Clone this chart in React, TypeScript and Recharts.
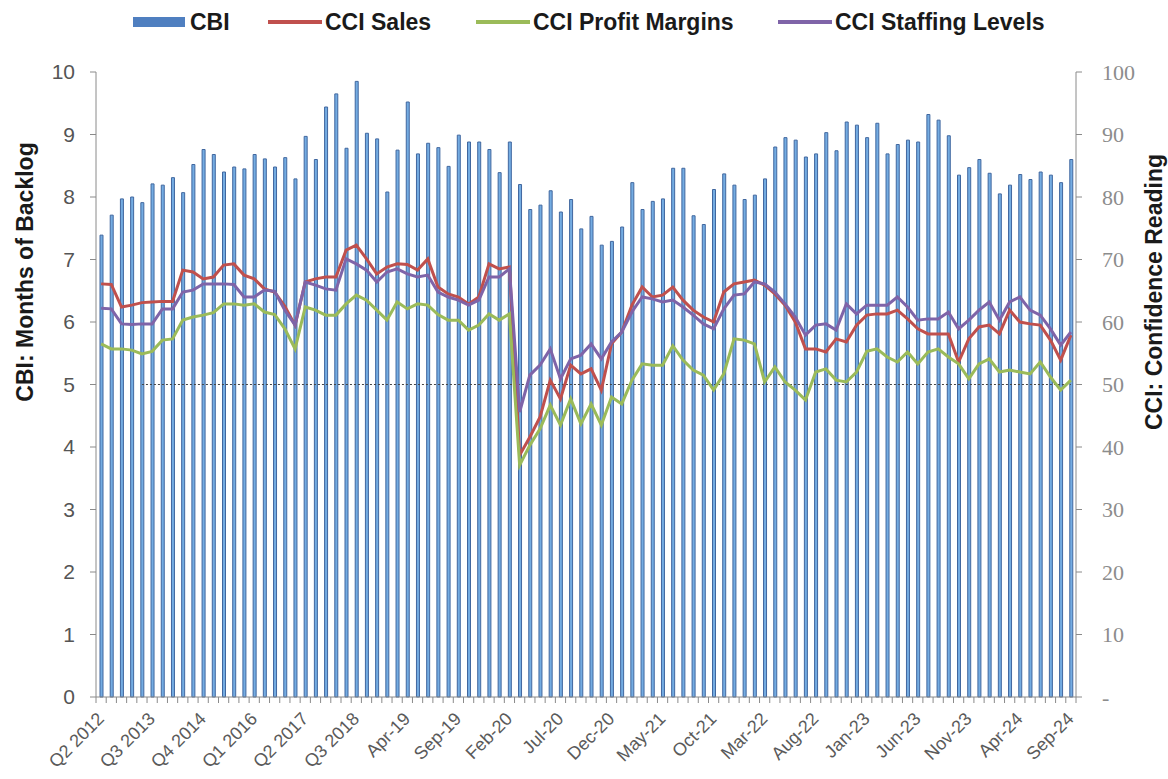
import { ComposedChart, Bar, Line, XAxis, YAxis, ReferenceLine } from "recharts";

const quarters = [
  "Q2 2012", "Q3 2012", "Q4 2012",
  "Q1 2013", "Q2 2013", "Q3 2013", "Q4 2013",
  "Q1 2014", "Q2 2014", "Q3 2014", "Q4 2014",
  "Q1 2015", "Q2 2015", "Q3 2015", "Q4 2015",
  "Q1 2016", "Q2 2016", "Q3 2016", "Q4 2016",
  "Q1 2017", "Q2 2017", "Q3 2017", "Q4 2017",
  "Q1 2018", "Q2 2018", "Q3 2018", "Q4 2018",
];

const months = [
  "Jan-19", "Feb-19", "Mar-19", "Apr-19", "May-19", "Jun-19", "Jul-19", "Aug-19", "Sep-19", "Oct-19", "Nov-19", "Dec-19",
  "Jan-20", "Feb-20", "Mar-20", "Apr-20", "May-20", "Jun-20", "Jul-20", "Aug-20", "Sep-20", "Oct-20", "Nov-20", "Dec-20",
  "Jan-21", "Feb-21", "Mar-21", "Apr-21", "May-21", "Jun-21", "Jul-21", "Aug-21", "Sep-21", "Oct-21", "Nov-21", "Dec-21",
  "Jan-22", "Feb-22", "Mar-22", "Apr-22", "May-22", "Jun-22", "Jul-22", "Aug-22", "Sep-22", "Oct-22", "Nov-22", "Dec-22",
  "Jan-23", "Feb-23", "Mar-23", "Apr-23", "May-23", "Jun-23", "Jul-23", "Aug-23", "Sep-23", "Oct-23", "Nov-23", "Dec-23",
  "Jan-24", "Feb-24", "Mar-24", "Apr-24", "May-24", "Jun-24", "Jul-24", "Aug-24", "Sep-24",
];

const categories = [...quarters, ...months];

// CBI, months of backlog (left axis)
const cbi = [
  7.39, 7.71, 7.97, 8.0, 7.91, 8.21, 8.19, 8.31, 8.07, 8.52,
  8.76, 8.68, 8.4, 8.48, 8.45, 8.68, 8.61, 8.48, 8.63, 8.29,
  8.97, 8.6, 9.44, 9.65, 8.78, 9.85, 9.02, 8.93, 8.08, 8.75,
  9.52, 8.69, 8.86, 8.79, 8.49, 8.99, 8.88, 8.88, 8.76, 8.39,
  8.88, 8.2, 7.8, 7.87, 8.1, 7.76, 7.96, 7.49, 7.69, 7.23,
  7.29, 7.52, 8.23, 7.8, 7.93, 7.97, 8.46, 8.46, 7.7, 7.56,
  8.12, 8.37, 8.19, 7.96, 8.03, 8.29, 8.8, 8.95, 8.91, 8.64,
  8.69, 9.03, 8.74, 9.2, 9.15, 8.95, 9.18, 8.69, 8.84, 8.91,
  8.88, 9.32, 9.23, 8.98, 8.35, 8.47, 8.6, 8.38, 8.05, 8.19,
  8.36, 8.28, 8.4, 8.35, 8.23, 8.6,
];

// CCI readings (right axis)
const sales = [
  66.1, 66.0, 62.4, 62.7, 63.1, 63.2, 63.3, 63.3, 68.3, 68.0,
  66.9, 67.2, 69.1, 69.3, 67.5, 66.9, 65.3, 64.8, 62.5, 59.5,
  66.4, 66.9, 67.2, 67.2, 71.5, 72.3, 70.1, 67.7, 68.8, 69.3,
  69.2, 68.3, 70.1, 65.6, 64.5, 64.0, 62.9, 64.0, 69.3, 68.5,
  68.8, 38.7, 41.6, 44.8, 50.7, 47.7, 53.1, 51.7, 52.5, 49.1,
  56.5, 58.4, 62.7, 65.6, 64.0, 64.3, 65.6, 63.5, 61.9, 60.8,
  60.0, 64.8, 66.1, 66.4, 66.7, 65.9, 64.5, 62.7, 60.0, 55.7,
  55.7, 55.2, 57.3, 56.8, 59.5, 61.1, 61.3, 61.3, 61.9, 60.5,
  58.9, 58.1, 58.1, 58.1, 53.6, 57.3, 59.2, 59.5, 58.1, 61.9,
  60.0, 59.7, 59.5, 57.1, 53.9, 57.9,
];

const margins = [
  56.5, 55.7, 55.7, 55.5, 54.9, 55.3, 57.1, 57.3, 60.3, 60.8,
  61.1, 61.5, 62.9, 62.9, 62.7, 62.9, 61.6, 61.2, 58.9, 55.7,
  62.4, 61.9, 61.1, 61.1, 62.9, 64.3, 63.5, 61.9, 60.3, 63.2,
  62.1, 62.9, 62.7, 61.2, 60.3, 60.3, 58.7, 59.5, 61.3, 60.3,
  61.3, 37.1, 40.3, 42.9, 46.7, 43.5, 47.7, 43.7, 46.9, 43.5,
  48.0, 46.9, 50.7, 53.3, 53.1, 53.1, 56.2, 53.9, 52.3, 51.5,
  49.1, 51.7, 57.3, 57.1, 56.5, 50.4, 52.8, 50.4, 49.1, 47.5,
  52.0, 52.5, 50.7, 50.4, 52.0, 55.3, 55.7, 54.4, 53.6, 55.2,
  53.3, 55.2, 55.7, 54.4, 53.3, 50.9, 53.3, 54.1, 52.0, 52.3,
  52.0, 51.7, 53.6, 51.2, 49.1, 50.7,
];

const staffing = [
  62.2, 62.1, 59.7, 59.6, 59.7, 59.7, 62.1, 62.1, 64.8, 65.1,
  66.1, 66.1, 66.1, 66.0, 64.0, 64.0, 65.1, 64.9, 61.9, 59.5,
  66.4, 65.9, 65.3, 65.1, 70.1, 69.3, 68.3, 66.4, 68.0, 68.5,
  67.7, 67.2, 67.5, 64.8, 64.0, 63.5, 62.7, 63.5, 67.2, 67.2,
  68.5, 45.6, 51.5, 53.1, 55.7, 50.9, 54.1, 54.7, 56.5, 54.1,
  56.8, 58.4, 61.6, 64.0, 63.7, 63.2, 63.5, 62.4, 61.1, 59.7,
  58.9, 62.1, 64.3, 64.5, 66.4, 66.1, 64.8, 62.9, 60.8, 57.9,
  59.5, 59.7, 58.7, 62.9, 61.3, 62.7, 62.7, 62.7, 64.0, 62.4,
  60.3, 60.5, 60.5, 61.6, 58.9, 60.3, 61.9, 63.2, 60.3, 63.2,
  64.0, 61.9, 61.1, 58.9, 56.3, 58.4,
];

const leftTicks = [0, 1, 2, 3, 4, 5, 6, 7, 8, 9, 10];
const rightTicks = [0, 10, 20, 30, 40, 50, 60, 70, 80, 90, 100];

const data = categories.map((label, i) => ({
  label,
  cbi: cbi[i],
  sales: sales[i],
  margins: margins[i],
  staffing: staffing[i],
}));

const W = 1168;
const H = 779;
const PLOT_LEFT = 96;
const PLOT_RIGHT = 1076;
const band = (PLOT_RIGHT - PLOT_LEFT) / categories.length;

const SANS = "'Liberation Sans', Arial, sans-serif";
const SERIF = "'Liberation Serif', 'Times New Roman', serif";
const AXIS = "#8a8a8a";

function XTick(props: any) {
  const { x, y, payload } = props;
  const i = payload.index;
  const tx = x + 4;
  const ty = y + 23;
  return (
    <g>
      <line x1={x - band / 2} x2={x - band / 2} y1={y} y2={y + 6} stroke={AXIS} />
      {i === categories.length - 1 && (
        <line x1={x + band / 2} x2={x + band / 2} y1={y} y2={y + 6} stroke={AXIS} />
      )}
      {i % 5 === 0 && (
        <text
          x={tx}
          y={ty}
          textAnchor="end"
          transform={`rotate(-45 ${tx} ${ty})`}
          fontSize={18}
          fontFamily={SANS}
          fill="#5a5a5a"
        >
          {payload.value}
        </text>
      )}
    </g>
  );
}

const legendItems = [
  { name: "CBI", color: "#4f7fc0", kind: "bar" },
  { name: "CCI Sales", color: "#c0504d", kind: "line" },
  { name: "CCI Profit Margins", color: "#9bbb59", kind: "line" },
  { name: "CCI Staffing Levels", color: "#7f64a8", kind: "line" },
];

export default function App() {
  return (
    <div style={{ position: "absolute", left: 0, top: 0, width: W, height: H, background: "#fff" }}>
      <ComposedChart
        width={W}
        height={H}
        data={data}
        margin={{ top: 72, right: 0, bottom: 0, left: 0 }}
      >
        <XAxis
          dataKey="label"
          xAxisId="x"
          interval={0}
          height={82}
          tickSize={0}
          tickMargin={0}
          tickLine={false}
          axisLine={{ stroke: AXIS }}
          tick={<XTick />}
        />
        <YAxis
          yAxisId="left"
          width={96}
          domain={[0, 10]}
          ticks={leftTicks}
          tickSize={6}
          tickMargin={15}
          axisLine={{ stroke: AXIS }}
          tickLine={{ stroke: AXIS }}
          tick={{ fill: "#555", fontSize: 21, fontFamily: SANS }}
        />
        <YAxis
          yAxisId="right"
          orientation="right"
          width={92}
          domain={[0, 100]}
          ticks={rightTicks}
          tickSize={6}
          tickMargin={20}
          axisLine={{ stroke: AXIS }}
          tickLine={{ stroke: AXIS }}
          tickFormatter={(v: number) => (v === 0 ? "-" : String(v))}
          tick={{ fill: "#8c8c8c", fontSize: 22, fontFamily: SERIF }}
        />
        <Bar
          xAxisId="x"
          yAxisId="left"
          dataKey="cbi"
          name="CBI"
          barSize={3}
          fill="#74acE2"
          stroke="#40679f"
          strokeWidth={1}
          isAnimationActive={false}
        />
        <ReferenceLine
          xAxisId="x"
          yAxisId="right"
          segment={[
            { x: categories[4], y: 50 },
            { x: categories[categories.length - 1], y: 50 },
          ]}
          stroke="#444"
          strokeDasharray="2 2"
        />
        <Line
          xAxisId="x"
          yAxisId="right"
          type="linear"
          dataKey="sales"
          name="CCI Sales"
          stroke="#c0504d"
          strokeWidth={3}
          dot={false}
          isAnimationActive={false}
        />
        <Line
          xAxisId="x"
          yAxisId="right"
          type="linear"
          dataKey="margins"
          name="CCI Profit Margins"
          stroke="#9bbb59"
          strokeWidth={3}
          dot={false}
          isAnimationActive={false}
        />
        <Line
          xAxisId="x"
          yAxisId="right"
          type="linear"
          dataKey="staffing"
          name="CCI Staffing Levels"
          stroke="#7f64a8"
          strokeWidth={3}
          dot={false}
          isAnimationActive={false}
        />
      </ComposedChart>

      {/* legend and axis titles drawn on top */}
      <svg
        width={W}
        height={H}
        style={{ position: "absolute", left: 0, top: 0, pointerEvents: "none" }}
      >
        <g fontFamily={SANS} fontWeight="bold" fontSize={23} fill="#1a1a1a">
          {legendItems.map((item, k) => {
            const starts = [133, 268, 476, 778];
            const sx = starts[k];
            return (
              <g key={item.name}>
                {item.kind === "bar" ? (
                  <rect x={sx} y={17} width={52} height={10} fill={item.color} />
                ) : (
                  <line x1={sx} x2={sx + 54} y1={22} y2={22} stroke={item.color} strokeWidth={4} />
                )}
                <text x={sx + 57} y={22} dominantBaseline="central">
                  {item.name}
                </text>
              </g>
            );
          })}
        </g>
        <text
          x={25}
          y={272}
          transform="rotate(-90 25 272)"
          textAnchor="middle"
          dominantBaseline="central"
          fontFamily={SANS}
          fontWeight="bold"
          fontSize={23}
          fill="#1a1a1a"
        >
          CBI: Months of Backlog
        </text>
        <text
          x={1154}
          y={292}
          transform="rotate(-90 1154 292)"
          textAnchor="middle"
          dominantBaseline="central"
          fontFamily={SANS}
          fontWeight="bold"
          fontSize={23}
          fill="#1a1a1a"
        >
          CCI: Confidence Reading
        </text>
      </svg>
    </div>
  );
}
